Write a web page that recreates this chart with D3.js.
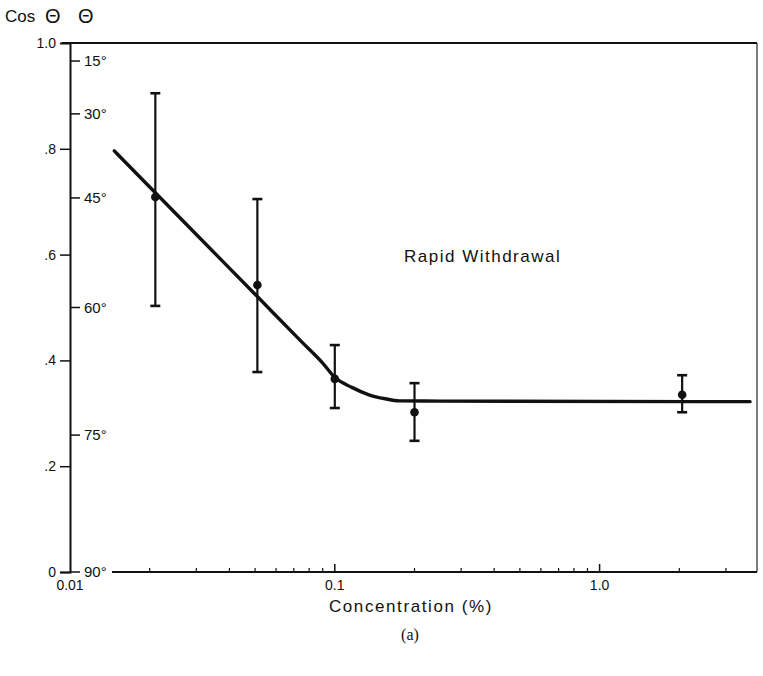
<!DOCTYPE html>
<html>
<head>
<meta charset="utf-8">
<script src="https://cdn.jsdelivr.net/npm/d3@7"></script>
<style>
  body { margin: 0; background: #fff; }
  svg { display: block; font-family: "Liberation Sans", Arial, Helvetica, sans-serif; }
</style>
</head>
<body>
<svg id="chart" width="763" height="676"></svg>
<script>
// Contact angle vs. concentration, rapid withdrawal
const concentration = [0.021, 0.051, 0.1, 0.2, 2.05];
const cosMean = [0.709, 0.5425, 0.365, 0.302, 0.335];
const cosHigh = [0.905, 0.705, 0.429, 0.357, 0.372];
const cosLow  = [0.503, 0.378, 0.310, 0.248, 0.302];

// Smooth trend line through the data
const fitConc = [0.0147, 0.03, 0.05, 0.075, 0.09, 0.1, 0.116, 0.1345, 0.155, 0.175, 0.25, 3.7];
const fitCos  = [0.796, 0.638, 0.525, 0.435, 0.395, 0.368, 0.349, 0.335, 0.3275, 0.3235, 0.323, 0.322];

const cosTicks = [0, 0.2, 0.4, 0.6, 0.8, 1.0];
const cosTickLabels = ["0", ".2", ".4", ".6", ".8", "1.0"];
const angleTicks = [15, 30, 45, 60, 75, 90];
const xMajorTicks = [0.01, 0.1, 1.0];
const xMajorLabels = ["0.01", "0.1", "1.0"];

const svg = d3.select("#chart");
const plotLeft = 70, plotRight = 757, plotTop = 43, plotBottom = 572;

const x = d3.scaleLog().domain([0.01, 3.93]).range([plotLeft, plotRight]);
const y = d3.scaleLinear().domain([0, 1]).range([plotBottom, plotTop]);

const ink = "#111";

// Frame: top border and right border
svg.append("line").attr("x1", 62).attr("x2", plotRight).attr("y1", plotTop).attr("y2", plotTop)
  .attr("stroke", ink).attr("stroke-width", 1.8);
svg.append("line").attr("x1", plotRight).attr("x2", plotRight).attr("y1", plotTop).attr("y2", plotBottom)
  .attr("stroke", ink).attr("stroke-width", 1.1);

// Left axis (cos θ) with outward ticks
const yAxis = d3.axisLeft(y).tickValues(cosTicks)
  .tickFormat((d, i) => cosTickLabels[i]).tickSize(10).tickPadding(4);
const gy = svg.append("g").attr("transform", `translate(${plotLeft},0)`).call(yAxis);
gy.select(".domain").attr("stroke", ink).attr("stroke-width", 2);
gy.selectAll(".tick line").attr("stroke", ink).attr("stroke-width", 1.5);
gy.selectAll(".tick text").attr("fill", ink).style("font-size", "14px");
gy.selectAll(".tick").filter(d => d === 1).select("line").remove();

// Inner angle scale (θ) on the same axis line
const ga = svg.append("g").attr("transform", `translate(${plotLeft},0)`);
angleTicks.forEach(a => {
  const yy = y(Math.cos(a * Math.PI / 180));
  ga.append("line").attr("x1", 0).attr("x2", 10).attr("y1", yy).attr("y2", yy)
    .attr("stroke", ink).attr("stroke-width", 1.5);
  ga.append("text").attr("x", 14).attr("y", yy).attr("dy", "0.35em")
    .attr("fill", ink).style("font-size", "15px").text(a + "°");
});

// Bottom axis: baseline starts after the 90° label
const xLineStart = 112;
svg.append("line").attr("x1", xLineStart).attr("x2", plotRight).attr("y1", plotBottom).attr("y2", plotBottom)
  .attr("stroke", ink).attr("stroke-width", 1.8);

const minorTicks = [];
[0.01, 0.1, 1].forEach(dec => {
  for (let k = 2; k <= 9; k++) {
    const v = dec * k;
    if (v <= 3.93) minorTicks.push(v);
  }
});
svg.append("g").selectAll("line.minor").data(minorTicks).join("line")
  .attr("x1", d => x(d)).attr("x2", d => x(d))
  .attr("y1", plotBottom).attr("y2", plotBottom - 4)
  .attr("stroke", ink).attr("stroke-width", 1.2);
svg.append("g").selectAll("line.major").data(xMajorTicks.filter(d => d > 0.01)).join("line")
  .attr("x1", d => x(d)).attr("x2", d => x(d))
  .attr("y1", plotBottom).attr("y2", plotBottom - 8)
  .attr("stroke", ink).attr("stroke-width", 1.5);
svg.append("g").selectAll("text.xlab").data(xMajorTicks).join("text")
  .attr("x", d => x(d)).attr("y", plotBottom + 18)
  .attr("text-anchor", "middle").attr("fill", ink).style("font-size", "14px")
  .text((d, i) => xMajorLabels[i]);

// Trend line
const line = d3.line().x((d, i) => x(fitConc[i])).y((d, i) => y(fitCos[i]))
  .curve(d3.curveMonotoneX);
svg.append("path").datum(fitConc).attr("d", line)
  .attr("fill", "none").attr("stroke", ink).attr("stroke-width", 3.4)
  .attr("stroke-linecap", "round");

// Error bars and means
const pts = svg.append("g");
concentration.forEach((c, i) => {
  const cx = x(c);
  pts.append("line").attr("x1", cx).attr("x2", cx)
    .attr("y1", y(cosHigh[i])).attr("y2", y(cosLow[i]))
    .attr("stroke", ink).attr("stroke-width", 2.2);
  [cosHigh[i], cosLow[i]].forEach(v => {
    pts.append("line").attr("x1", cx - 5).attr("x2", cx + 5)
      .attr("y1", y(v)).attr("y2", y(v))
      .attr("stroke", ink).attr("stroke-width", 2.6);
  });
  pts.append("circle").attr("cx", cx).attr("cy", y(cosMean[i])).attr("r", 4.3)
    .attr("fill", ink);
});

// Text
const head = svg.append("g").attr("fill", ink);
head.append("text").attr("x", 5).attr("y", 22).style("font-size", "17px").text("Cos");
head.append("text").attr("x", 45).attr("y", 23).style("font-size", "20px").text("Θ");
head.append("text").attr("x", 78).attr("y", 23).style("font-size", "20px").text("Θ");
svg.append("text").attr("x", 404).attr("y", 262).attr("fill", ink)
  .style("font-size", "17px").style("letter-spacing", "1.5px").text("Rapid Withdrawal");
svg.append("text").attr("x", 411).attr("y", 612).attr("text-anchor", "middle")
  .attr("fill", ink).style("font-size", "17px").style("letter-spacing", "1.6px")
  .text("Concentration (%)");
svg.append("text").attr("x", 410).attr("y", 640).attr("text-anchor", "middle")
  .attr("fill", ink).style("font-family", "'Liberation Serif', 'Times New Roman', serif")
  .style("font-size", "16px").text("(a)");
</script>
</body>
</html>
